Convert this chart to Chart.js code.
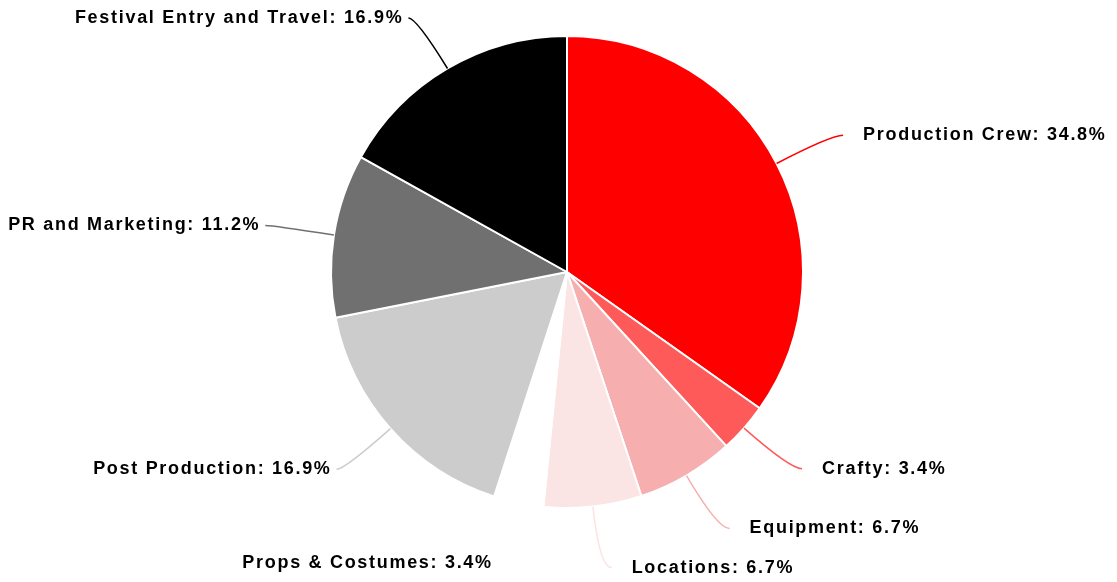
<!DOCTYPE html>
<html>
<head>
<meta charset="utf-8">
<script src="https://cdn.jsdelivr.net/npm/chart.js@4.4.0/dist/chart.umd.min.js"></script>
<style>
    body { margin: 0; background: #ffffff; }
    #wrap { width: 1117px; height: 582px; }
</style>
</head>
<body>
<div id="wrap"><canvas id="pie-chart" width="1117" height="582"></canvas></div>
<script>
const categories = ["Production Crew", "Crafty", "Equipment", "Locations", "Props & Costumes", "Post Production", "PR and Marketing", "Festival Entry and Travel"];
const shares = [34.8, 3.4, 6.7, 6.7, 3.4, 16.9, 11.2, 16.9];
const sliceColors = ["#ff0000", "#ff5a5a", "#f7aeae", "#fbe4e4", "#ffffff", "#cccccc", "#707070", "#000000"];

// etiquetas fuera del pastel con linea curva
const outsideLabels = {
    id: "outsideLabels",
    afterDatasetsDraw(chart) {
        const ctx = chart.ctx;
        const meta = chart.getDatasetMeta(0);
        const items = [];

        meta.data.forEach((arc, i) => {
            const p = arc.getProps(["x", "y", "startAngle", "endAngle", "outerRadius"], true);
            const mid = (p.startAngle + p.endAngle) / 2;
            const dx = Math.cos(mid);
            const dy = Math.sin(mid);
            const rLab = p.outerRadius * 1.26;
            let ly = p.y + dy * rLab;
            ly = Math.max(18, Math.min(chart.height - 11, ly));
            items.push({
                i: i,
                side: dx >= 0 ? 1 : -1,
                x0: p.x + dx * p.outerRadius,
                y0: p.y + dy * p.outerRadius,
                cx: p.x + dx * rLab,
                cy: p.y + dy * rLab,
                ly: ly,
            });
        });

        [1, -1].forEach((side) => {
            const list = items.filter((it) => it.side == side).sort((a, b) => a.ly - b.ly);
            for (let k = 1; k < list.length; k++) {
                if (list[k].ly - list[k - 1].ly < 34) list[k].ly = list[k - 1].ly + 34;
            }
        });

        ctx.save();
        items.forEach((it) => {
            const endX = it.cx + it.side * (it.side > 0 ? 12 : 8);
            ctx.beginPath();
            ctx.moveTo(it.x0, it.y0);
            ctx.quadraticCurveTo(it.cx, it.ly, endX, it.ly);
            ctx.strokeStyle = sliceColors[it.i];
            ctx.lineWidth = 1.5;
            ctx.stroke();

            ctx.font = "bold 18px 'Liberation Sans', Arial, sans-serif";
            ctx.letterSpacing = "1.7px";
            ctx.fillStyle = "#000000";
            ctx.textBaseline = "middle";
            ctx.textAlign = it.side > 0 ? "left" : "right";
            const tx = it.side > 0 ? endX + 20 : endX - 5;
            ctx.fillText(categories[it.i] + ": " + shares[it.i].toFixed(1) + "%", tx, it.ly);
        });
        ctx.restore();
    },
};

new Chart(document.getElementById("pie-chart"), {
    type: "pie",
    data: {
        labels: categories,
        datasets: [
            {
                data: shares,
                backgroundColor: sliceColors,
                borderColor: "#ffffff",
                borderWidth: 2,
            },
        ],
    },
    options: {
        responsive: false,
        animation: false,
        layout: { padding: { top: 35, bottom: 73, left: 299, right: 282 } },
        plugins: {
            legend: { display: false },
            tooltip: { enabled: false },
        },
    },
    plugins: [outsideLabels],
});
</script>
</body>
</html>
